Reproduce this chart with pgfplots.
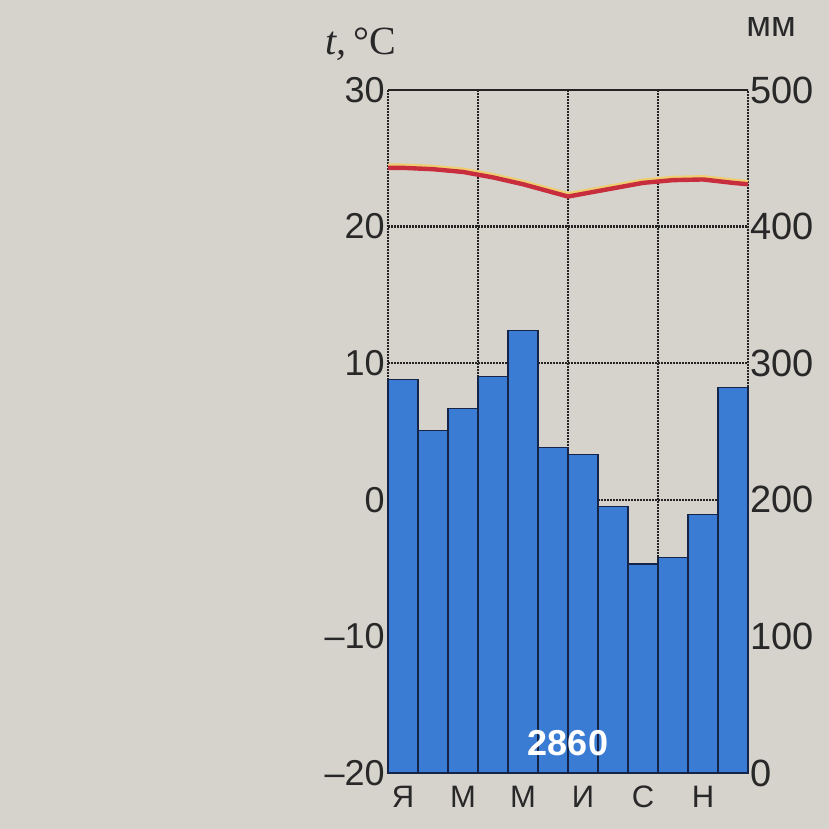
\documentclass[border=0pt]{standalone}
\usepackage{fontspec}
\setmainfont{Liberation Sans}
\newfontfamily\seriffont{Liberation Serif}
\usepackage{pgfplots}
\pgfplotsset{compat=1.18}

\definecolor{paper}{RGB}{214,211,205}
\definecolor{barblue}{RGB}{58,124,212}
\definecolor{baredge}{RGB}{22,36,72}
\definecolor{tred}{RGB}{200,45,62}
\definecolor{tyellow}{RGB}{238,206,112}
\definecolor{gridc}{RGB}{35,35,35}
\definecolor{labc}{RGB}{40,40,40}

\begin{document}
\begin{tikzpicture}[x=1pt,y=1pt]
\fill[paper] (0,0) rectangle (414.5,414.5);
\path[use as bounding box] (0,0) rectangle (414.5,414.5);

% temperature axis (left), grid and frame
\begin{axis}[
    at={(194pt,28pt)}, anchor=south west,
    scale only axis, width=180pt, height=341.5pt,
    xmin=0.5, xmax=12.5, ymin=-20, ymax=30,
    xtick={3.5,6.5,9.5}, xticklabels={},
    ytick={-20,-10,0,10,20,30},
    yticklabels={--20,--10,0,10,20,30},
    major tick length=0pt,
    grid=major,
    major grid style={gridc, dash pattern=on 0.9pt off 0.6pt, line width=1.1pt},
    axis line style={gridc, dash pattern=on 0.9pt off 0.6pt, line width=1.1pt},
    yticklabel style={font=\fontsize{18}{20}\selectfont, text=labc, inner xsep=1.5pt},
    clip=false,
]
\addplot[tyellow, line width=2.4pt, yshift=1pt] coordinates {
    (0.5,24.3)(1,24.3)(2,24.2)(3,24.0)(4,23.6)(5,23.1)(6,22.5)(6.5,22.2)
    (7,22.4)(8,22.8)(9,23.2)(10,23.4)(11,23.45)(12,23.2)(12.5,23.1)};
\addplot[tred, line width=2.2pt] coordinates {
    (0.5,24.3)(1,24.3)(2,24.2)(3,24.0)(4,23.6)(5,23.1)(6,22.5)(6.5,22.2)
    (7,22.4)(8,22.8)(9,23.2)(10,23.4)(11,23.45)(12,23.2)(12.5,23.1)};
\node[anchor=base, text=labc, font=\seriffont\fontsize{20}{22}\selectfont]
    at ([xshift=-13.5pt,yshift=17.5pt]rel axis cs:0,1) {\itshape t,\upshape\,°C};
\node[anchor=base, text=labc, font=\fontsize{18}{20}\selectfont]
    at ([xshift=11.5pt,yshift=26.5pt]rel axis cs:1,1) {мм};
\end{axis}

% precipitation axis (right), bars
\begin{axis}[
    at={(194pt,28pt)}, anchor=south west,
    scale only axis, width=180pt, height=341.5pt,
    xmin=0.5, xmax=12.5, ymin=0, ymax=500,
    ybar, bar width=1,
    axis line style={draw=none},
    xtick={1,3,5,7,9,11},
    xticklabels={Я,М,М,И,С,Н},
    ytick={0,100,200,300,400,500},
    yticklabels={0,100,200,300,400,500},
    ytick pos=right, yticklabel pos=right,
    major tick length=0pt,
    xticklabel style={font=\fontsize{15.5}{17}\selectfont, text=labc, yshift=-3pt},
    yticklabel style={font=\fontsize{19}{21}\selectfont, text=labc, inner xsep=1pt},
    clip=false,
]
\addplot[fill=barblue, draw=baredge, line width=0.6pt] coordinates {
    (1,288)(2,251)(3,267)(4,290)(5,324)(6,238)
    (7,233)(8,195)(9,153)(10,158)(11,189)(12,282)};
\node[text=white, font=\bfseries\fontsize{18}{20}\selectfont]
    at (axis cs:6.5,22) {2860};
\end{axis}
\end{tikzpicture}
\end{document}
